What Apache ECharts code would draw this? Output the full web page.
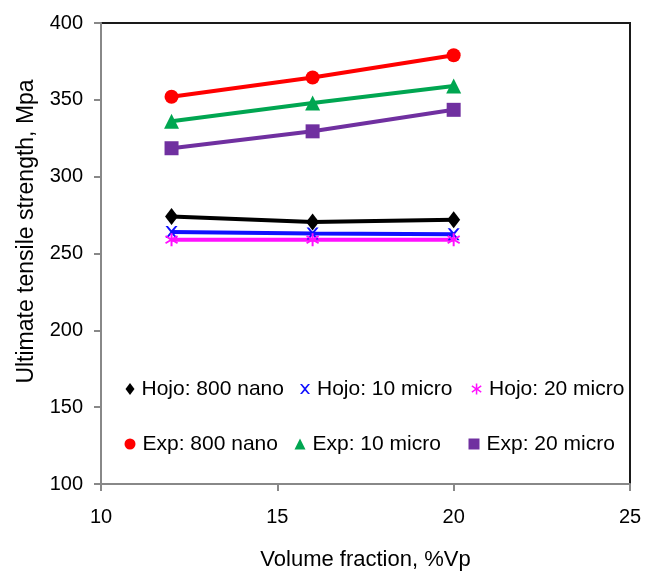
<!DOCTYPE html>
<html><head><meta charset="utf-8">
<script src="https://cdn.jsdelivr.net/npm/echarts@6/dist/echarts.min.js"></script>
<style>html,body{margin:0;padding:0;background:#fff}#c{width:656px;height:581px}</style>
</head><body><div id="c"></div>
<script>
const xValues = [12, 16, 20];
const hojo800 = [274, 270.5, 272];
const hojo10 = [264, 263, 262.5];
const hojo20 = [259, 259, 259];
const exp800 = [352, 364.5, 379];
const exp10 = [336, 348, 359];
const exp20 = [318.5, 329.5, 343.5];
const names = ['Hojo: 800 nano','Hojo: 10 micro','Hojo: 20 micro','Exp: 800 nano','Exp: 10 micro','Exp: 20 micro'];
const yTicks = [100,150,200,250,300,350,400];
const xTicks = [10,15,20,25];

const X_PATH = 'path://M0,0 L2,0 L5,3.5 L8,0 L10,0 L6,5 L10,10 L8,10 L5,6.5 L2,10 L0,10 L4,5 Z';
const STAR_PATH = 'path://M4.3,0 H5.7 V3.8 L8.9,1.6 L9.6,2.8 L6.4,5 L9.6,7.2 L8.9,8.4 L5.7,6.2 V10 H4.3 V6.2 L1.1,8.4 L0.4,7.2 L3.6,5 L0.4,2.8 L1.1,1.6 L4.3,3.8 Z';

const FONT = 'Liberation Sans, Arial';
const seriesDefs = [
  {name: names[0], data: hojo800, color: '#000000', symbol: 'diamond', size: [13,17], li: [9,12]},
  {name: names[1], data: hojo10, color: '#1010ff', symbol: X_PATH, size: 12, li: [10,10]},
  {name: names[2], data: hojo20, color: '#ff10ff', symbol: STAR_PATH, size: 13, li: [11,11]},
  {name: names[3], data: exp800, color: '#ff0000', symbol: 'circle', size: 14, li: [11,11]},
  {name: names[4], data: exp10, color: '#00a651', symbol: 'triangle', size: 15, li: [11,11]},
  {name: names[5], data: exp20, color: '#7030a0', symbol: 'rect', size: 14, li: [11,11]}
];

const legendCenters = [
  [130, 389], [305, 389], [477, 389],
  [130, 444], [300, 444], [474, 444]
];

const chart = echarts.init(document.getElementById('c'), null, {renderer: 'canvas'});
chart.setOption({
  animation: false,
  backgroundColor: '#fff',
  grid: {left: 101, right: 26, top: 23, bottom: 97, show: true, borderColor: '#1a1a1a', borderWidth: 2, backgroundColor: 'transparent'},
  xAxis: {
    type: 'value', min: 10, max: 25, interval: 5,
    axisLine: {show: true, onZero: false, lineStyle: {color: '#888', width: 2}},
    axisTick: {show: true, inside: false, length: 7, lineStyle: {color: '#888', width: 2}},
    splitLine: {show: false},
    axisLabel: {color: '#000', fontSize: 20, fontFamily: FONT, margin: 23,
      formatter: v => xTicks.includes(v) ? String(v) : ''},
    name: 'Volume fraction, %Vp', nameLocation: 'middle', nameGap: 65,
    nameTextStyle: {color: '#000', fontSize: 22, fontFamily: FONT}
  },
  yAxis: {
    type: 'value', min: 100, max: 400, interval: 50,
    axisLine: {show: true, onZero: false, lineStyle: {color: '#888', width: 2}},
    axisTick: {show: true, inside: false, length: 7, lineStyle: {color: '#888', width: 2}},
    splitLine: {show: false},
    axisLabel: {color: '#000', fontSize: 20, fontFamily: FONT, margin: 18,
      formatter: v => yTicks.includes(v) ? String(v) : ''},
    name: 'Ultimate tensile strength, Mpa', nameLocation: 'middle', nameGap: 63,
    nameTextStyle: {color: '#000', fontSize: 23, fontFamily: FONT, padding: [0, 0, 0, 44]}
  },
  legend: seriesDefs.map((s, i) => ({
    data: [{name: s.name, icon: s.symbol}],
    left: legendCenters[i][0] - s.li[0] / 2, top: legendCenters[i][1] - 11,
    itemWidth: s.li[0], itemHeight: s.li[1], itemGap: 0,
    selectedMode: false,
    textStyle: {color: '#000', fontSize: 21, lineHeight: 22, fontFamily: FONT, padding: [0,0,0,2]},
    padding: 0
  })),
  series: seriesDefs.map(s => ({
    name: s.name, type: 'line',
    data: xValues.map((x, i) => [x, s.data[i]]),
    symbol: s.symbol, symbolSize: s.size, showAllSymbol: true,
    lineStyle: {color: s.color, width: 4},
    itemStyle: {color: s.color, borderWidth: 0},
    color: s.color
  }))
});
</script></body></html>
